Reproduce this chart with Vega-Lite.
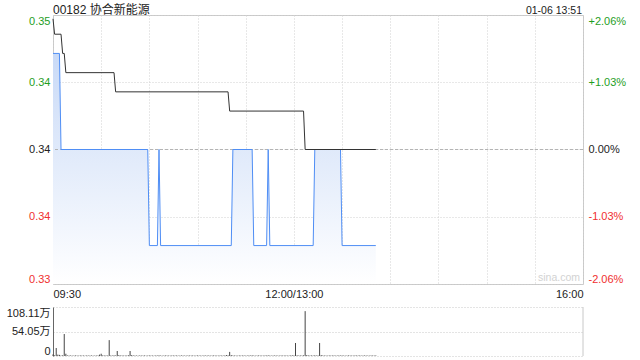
{
  "$schema": "https://vega.github.io/schema/vega-lite/v6.json",
  "padding": {"left": 6, "top": 3, "right": 0, "bottom": 0},
  "background": "#ffffff",
  "spacing": 6,
  "datasets": {
    "price": [
      {"m": 0, "p": 0.345}, {"m": 4, "p": 0.345}, {"m": 5, "p": 0.34}, {"m": 59, "p": 0.34},
      {"m": 60, "p": 0.335}, {"m": 65, "p": 0.335}, {"m": 66, "p": 0.34}, {"m": 67, "p": 0.335},
      {"m": 111, "p": 0.335}, {"m": 112, "p": 0.34}, {"m": 124, "p": 0.34}, {"m": 125, "p": 0.335},
      {"m": 133, "p": 0.335}, {"m": 134, "p": 0.34}, {"m": 135, "p": 0.335}, {"m": 162, "p": 0.335},
      {"m": 163, "p": 0.34}, {"m": 179, "p": 0.34}, {"m": 180, "p": 0.335}, {"m": 201, "p": 0.335}
    ],
    "avg": [
      {"m": 0, "a": 0.3468}, {"m": 1, "a": 0.346}, {"m": 5, "a": 0.346}, {"m": 6, "a": 0.345},
      {"m": 7, "a": 0.345}, {"m": 8, "a": 0.344}, {"m": 38, "a": 0.344}, {"m": 39, "a": 0.343},
      {"m": 109, "a": 0.343}, {"m": 110, "a": 0.342}, {"m": 156, "a": 0.342}, {"m": 157, "a": 0.34},
      {"m": 201, "a": 0.34}
    ],
    "vol": [
      {"m":0,"v":3.5},{"m":1,"v":1.5},{"m":2,"v":17.6},{"m":3,"v":3},{"m":4,"v":2.5},{"m":5,"v":1},{"m":6,"v":1.5},{"m":7,"v":48.5},{"m":8,"v":5},{"m":9,"v":1.2},
      {"m":10,"v":1},{"m":11,"v":1.2},{"m":12,"v":0.8},{"m":13,"v":1},{"m":14,"v":1.2},{"m":15,"v":1},{"m":16,"v":0.8},{"m":17,"v":1.2},{"m":18,"v":1},{"m":19,"v":1},
      {"m":20,"v":0.8},{"m":21,"v":1.2},{"m":22,"v":1},{"m":23,"v":1},{"m":24,"v":1.2},{"m":25,"v":0.8},{"m":26,"v":1},{"m":27,"v":1},{"m":28,"v":1.2},{"m":29,"v":3},
      {"m":30,"v":5},{"m":31,"v":1.5},{"m":32,"v":1},{"m":33,"v":1.2},{"m":34,"v":1},{"m":35,"v":35},{"m":36,"v":1.2},{"m":37,"v":1},{"m":38,"v":1.5},{"m":39,"v":1.2},
      {"m":40,"v":11},{"m":41,"v":2},{"m":42,"v":1},{"m":43,"v":1.2},{"m":44,"v":1},{"m":45,"v":1},{"m":46,"v":1.2},{"m":47,"v":1.5},{"m":48,"v":11},{"m":49,"v":2},
      {"m":50,"v":1.2},{"m":51,"v":1},{"m":52,"v":1},{"m":53,"v":0.8},{"m":54,"v":1.2},{"m":55,"v":1},{"m":56,"v":1},{"m":57,"v":1.2},{"m":58,"v":0.8},{"m":59,"v":1},
      {"m":60,"v":1.2},{"m":61,"v":1},{"m":62,"v":1},{"m":63,"v":0.8},{"m":64,"v":1.2},{"m":65,"v":1},{"m":66,"v":1.5},{"m":67,"v":1},{"m":68,"v":0.8},{"m":69,"v":1},
      {"m":70,"v":1.2},{"m":71,"v":1},{"m":72,"v":1},{"m":73,"v":0.8},{"m":74,"v":1.2},{"m":75,"v":1},{"m":76,"v":1},{"m":77,"v":1.2},{"m":78,"v":0.8},{"m":79,"v":1},
      {"m":80,"v":1.2},{"m":81,"v":1},{"m":82,"v":1},{"m":83,"v":0.8},{"m":84,"v":1.2},{"m":85,"v":1},{"m":86,"v":1},{"m":87,"v":1.2},{"m":88,"v":0.8},{"m":89,"v":1},
      {"m":90,"v":1.2},{"m":91,"v":1},{"m":92,"v":1},{"m":93,"v":0.8},{"m":94,"v":1.2},{"m":95,"v":1},{"m":96,"v":1},{"m":97,"v":1.2},{"m":98,"v":0.8},{"m":99,"v":1},
      {"m":100,"v":1.2},{"m":101,"v":1},{"m":102,"v":1},{"m":103,"v":0.8},{"m":104,"v":1.2},{"m":105,"v":1},{"m":106,"v":1},{"m":107,"v":1.2},{"m":108,"v":2},{"m":109,"v":1.5},
      {"m":110,"v":9},{"m":111,"v":2},{"m":112,"v":1.2},{"m":113,"v":1},{"m":114,"v":1},{"m":115,"v":0.8},{"m":116,"v":1.2},{"m":117,"v":1},{"m":118,"v":1},{"m":119,"v":1.2},
      {"m":120,"v":0.8},{"m":121,"v":1},{"m":122,"v":1.2},{"m":123,"v":1},{"m":124,"v":1.5},{"m":125,"v":1},{"m":126,"v":0.8},{"m":127,"v":1},{"m":128,"v":1.2},{"m":129,"v":1},
      {"m":130,"v":1},{"m":131,"v":0.8},{"m":132,"v":1.2},{"m":133,"v":1},{"m":134,"v":1.5},{"m":135,"v":1},{"m":136,"v":0.8},{"m":137,"v":1},{"m":138,"v":1.2},{"m":139,"v":1},
      {"m":140,"v":1},{"m":141,"v":0.8},{"m":142,"v":1.2},{"m":143,"v":1},{"m":144,"v":1},{"m":145,"v":1.2},{"m":146,"v":0.8},{"m":147,"v":1},{"m":148,"v":1.2},{"m":149,"v":1.5},
      {"m":150,"v":1.2},{"m":151,"v":28.7},{"m":152,"v":1.5},{"m":153,"v":1},{"m":154,"v":1.2},{"m":155,"v":1},{"m":156,"v":1.5},{"m":157,"v":99},{"m":158,"v":2},{"m":159,"v":1.2},
      {"m":160,"v":1},{"m":161,"v":1.2},{"m":162,"v":1},{"m":163,"v":1.5},{"m":164,"v":1},{"m":165,"v":1.2},{"m":166,"v":28.7},{"m":167,"v":2},{"m":168,"v":1.2},{"m":169,"v":1},
      {"m":170,"v":1},{"m":171,"v":0.8},{"m":172,"v":1.2},{"m":173,"v":1},{"m":174,"v":1},{"m":175,"v":1.2},{"m":176,"v":0.8},{"m":177,"v":1},{"m":178,"v":1.2},{"m":179,"v":1},
      {"m":180,"v":1.2},{"m":181,"v":1},{"m":182,"v":0.8},{"m":183,"v":1},{"m":184,"v":1.2},{"m":185,"v":1},{"m":186,"v":1},{"m":187,"v":0.8},{"m":188,"v":1.2},{"m":189,"v":1},
      {"m":190,"v":1},{"m":191,"v":1.2},{"m":192,"v":0.8},{"m":193,"v":1},{"m":194,"v":1.2},{"m":195,"v":1},{"m":196,"v":1},{"m":197,"v":0.8},{"m":198,"v":1.2},{"m":199,"v":1},
      {"m":200,"v":1},{"m":201,"v":1.2}
    ]
  },
  "vconcat": [
    {
      "width": 530,
      "height": 269,
      "view": {"stroke": "#c8c8c8"},
      "layer": [
        {
          "data": {"name": "price"},
          "mark": {"type": "area", "line": false, "fill": {"gradient": "linear", "x1": 0, "y1": 0, "x2": 0, "y2": 1, "stops": [{"offset": 0, "color": "#c9daf7"}, {"offset": 1, "color": "#ffffff"}]}},
          "encoding": {
            "x": {"field": "m", "type": "quantitative", "title": null,
              "scale": {"domain": [0, 330], "nice": false, "zero": false},
              "axis": {"orient": "bottom", "values": [0, 30, 60, 90, 120, 150, 180, 210, 240, 270, 300, 330], "grid": true, "gridColor": "#d0d0d0", "gridDash": [1, 2], "domain": false, "ticks": false, "labelFlush": true, "labelOverlap": false, "labelPadding": 4, "labelColor": "#222222",
                "labelExpr": "datum.value == 0 ? '09:30' : datum.value == 150 ? '12:00/13:00' : datum.value == 330 ? '16:00' : ''"}},
            "y": {"field": "p", "type": "quantitative", "title": null,
              "scale": {"domain": [0.333, 0.347], "nice": false, "zero": false},
              "axis": {"orient": "left", "values": [0.333, 0.3365, 0.34, 0.3435, 0.347], "grid": true, "gridColor": "#d0d0d0", "gridDash": [1, 2], "domain": false, "ticks": false, "labelFlush": true, "labelPadding": 3,
                "labelExpr": "format(datum.value, '.2f')",
                "labelColor": {"condition": [{"test": "datum.value > 0.3401", "value": "#1f9e1f"}, {"test": "datum.value < 0.3399", "value": "#f03030"}], "value": "#222222"}}},
            "y2": {"datum": 0.333}
          }
        },
        {
          "data": {"values": [{"r": "base"}]},
          "mark": {"type": "rule", "color": "#b4b4b4", "strokeDash": [3, 2], "strokeWidth": 1},
          "encoding": {"y": {"datum": 0.34, "axis": null}}
        },
        {
          "data": {"name": "price"},
          "mark": {"type": "line", "color": "#4f8ef5", "strokeWidth": 1},
          "encoding": {
            "x": {"field": "m", "type": "quantitative", "axis": null},
            "y": {"field": "p", "type": "quantitative", "title": null,
              "axis": {"orient": "right", "values": [0.333, 0.3365, 0.34, 0.3435, 0.347], "grid": false, "domain": false, "ticks": false, "labelFlush": true, "labelPadding": 5,
                "labelExpr": "(datum.value > 0.3401 ? '+' : datum.value < 0.3399 ? '-' : '') + format(abs((datum.value - 0.34) / 0.34 * 100), '.2f') + '%'",
                "labelColor": {"condition": [{"test": "datum.value > 0.3401", "value": "#1f9e1f"}, {"test": "datum.value < 0.3399", "value": "#f03030"}], "value": "#222222"}}}
          }
        },
        {
          "data": {"name": "avg"},
          "mark": {"type": "line", "color": "#333333", "strokeWidth": 1},
          "encoding": {
            "x": {"field": "m", "type": "quantitative", "axis": null},
            "y": {"field": "a", "type": "quantitative", "axis": null}
          }
        },
        {
          "data": {"values": [{"t": "00182 协合新能源"}]},
          "mark": {"type": "text", "align": "left", "baseline": "alphabetic", "dy": -1.5, "fontSize": 12, "font": "Liberation Sans, Noto Sans CJK SC", "color": "#222222"},
          "encoding": {
            "x": {"datum": 0, "axis": null},
            "y": {"datum": 0.347, "axis": null},
            "text": {"field": "t"}
          }
        },
        {
          "data": {"values": [{"t": "01-06 13:51"}]},
          "mark": {"type": "text", "align": "right", "baseline": "alphabetic", "dy": -1.5, "dx": -1, "fontSize": 10.5, "font": "Liberation Sans", "color": "#222222"},
          "encoding": {
            "x": {"datum": 330, "axis": null},
            "y": {"datum": 0.347, "axis": null},
            "text": {"field": "t"}
          }
        },
        {
          "data": {"values": [{"t": "sina.com"}]},
          "mark": {"type": "text", "align": "right", "baseline": "bottom", "dy": -1, "dx": -3, "fontSize": 10.5, "font": "Liberation Sans", "color": "#d2d2d2"},
          "encoding": {
            "x": {"datum": 330, "axis": null},
            "y": {"datum": 0.333, "axis": null},
            "text": {"field": "t"}
          }
        }
      ],
      "resolve": {"axis": {"x": "independent", "y": "independent"}}
    },
    {
      "width": 530,
      "height": 49,
      "view": {"stroke": null},
      "layer": [
        {
          "data": {"name": "vol"},
          "mark": {"type": "rule", "color": "#444444", "strokeWidth": 1},
          "encoding": {
            "x": {"field": "m", "type": "quantitative", "axis": null, "scale": {"domain": [0, 330], "nice": false, "zero": false}},
            "y": {"field": "v", "type": "quantitative", "title": null,
              "scale": {"domain": [0, 108.11], "nice": false},
              "axis": {"orient": "left", "values": [0, 54.05, 108.11], "grid": true, "gridColor": "#c8c8c8", "gridDash": [1, 2], "domain": true, "domainColor": "#666666", "ticks": false, "labelFlush": true, "labelPadding": 3, "labelColor": "#222222",
                "labelExpr": "datum.value == 0 ? '0' : format(datum.value, '.2f') + '万'"}},
            "y2": {"datum": 0}
          }
        },
        {
          "data": {"values": [{"r": "border"}]},
          "mark": {"type": "rule", "color": "#c8c8c8", "strokeWidth": 1},
          "encoding": {
            "x": {"datum": 330, "axis": null},
            "y": {"datum": 0, "axis": null},
            "y2": {"datum": 108.11}
          }
        }
      ],
      "resolve": {"axis": {"x": "independent", "y": "independent"}}
    }
  ],
  "config": {
    "font": "Liberation Sans",
    "axis": {"labelFont": "Liberation Sans, Noto Sans CJK SC", "labelFontSize": 11}
  }
}
